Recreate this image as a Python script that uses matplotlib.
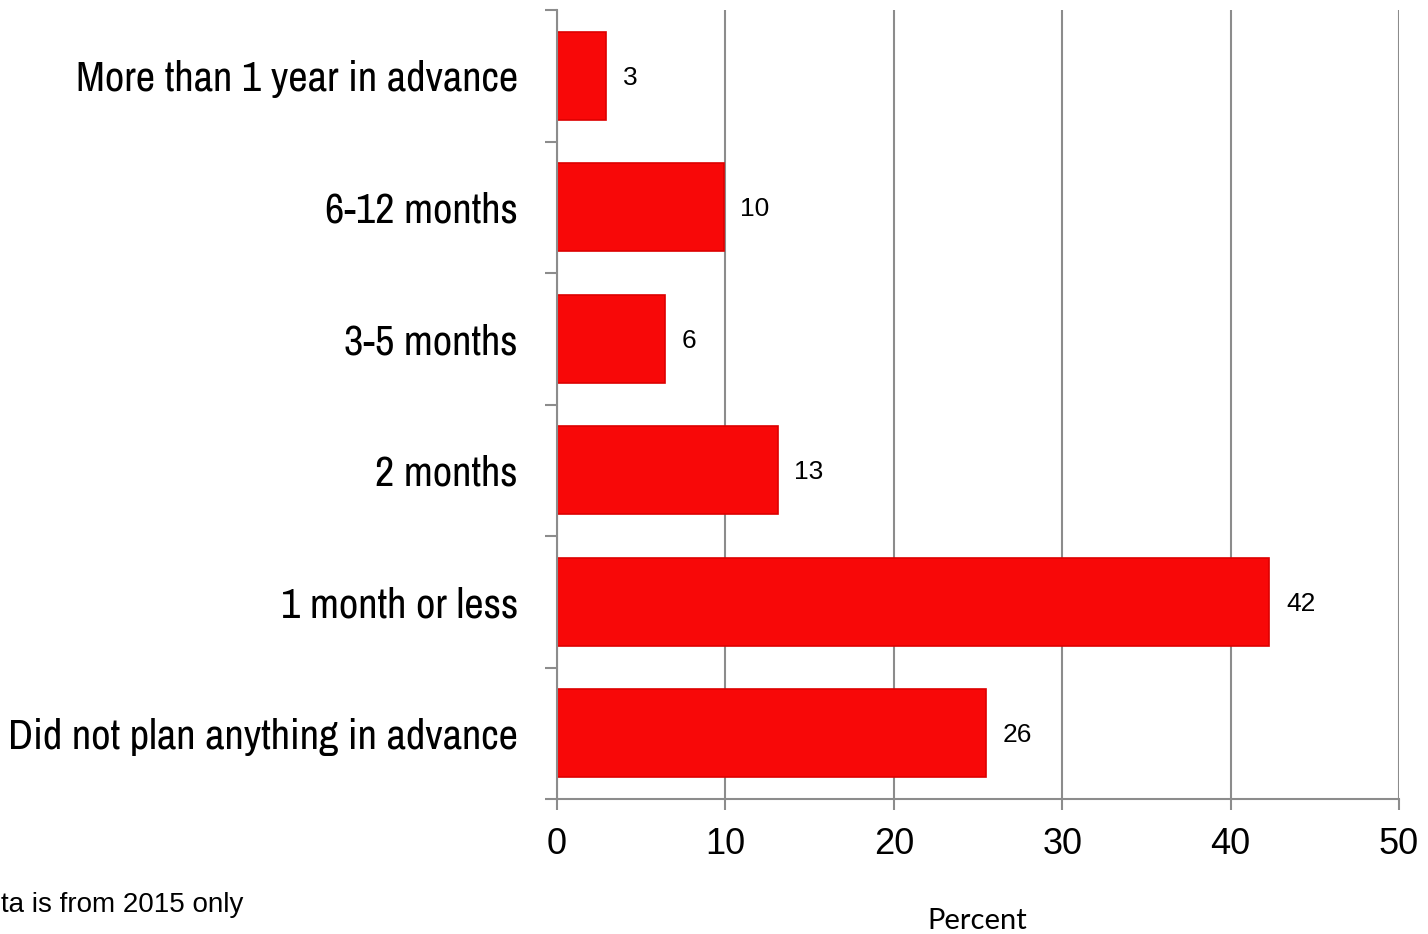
import matplotlib
matplotlib.use('Agg')
import matplotlib.pyplot as plt
from matplotlib import font_manager

categories = [
    'More than 1 year in advance',
    '6-12 months',
    '3-5 months',
    '2 months',
    '1 month or less',
    'Did not plan anything in advance',
]
values = [2.9, 9.9, 6.4, 13.1, 42.3, 25.5]
value_labels = ['3', '10', '6', '13', '42', '26']
x_ticks = [0, 10, 20, 30, 40, 50]

# narrow face for the category labels (Arial Narrow look-alike)
names = {f.name for f in font_manager.fontManager.ttflist}
narrow = next((n for n in ['Liberation Sans Narrow', 'Arimo Narrow', 'Archivo Narrow',
                           'Roboto Condensed', 'Liberation Sans'] if n in names))

grey = '#8c8c8c'
fig = plt.figure(figsize=(14.28, 9.34), dpi=100, facecolor='white')
ax = fig.add_axes([557 / 1428, 1 - 799 / 934, (1399 - 557) / 1428, (799 - 10) / 934])

pos = list(range(len(categories)))
ax.barh(pos, values, height=0.67, color='#f80808', edgecolor='#dd0000', linewidth=1.2, zorder=3)

for p, v, lab in zip(pos, values, value_labels):
    ax.annotate(lab, (v, p), xytext=(12, -1.5), textcoords='offset points',
                ha='left', va='center', fontsize=19, family='Liberation Sans', color='black')

ax.set_xlim(0, 50)
ax.set_ylim(len(categories) - 0.5, -0.5)
ax.set_xticks(x_ticks)
ax.set_xticklabels([str(t) for t in x_ticks], family='Liberation Sans', fontsize=26)
ax.tick_params(axis='x', length=8, width=1.5, color=grey, pad=12)

ax.set_yticks(pos)
ax.set_yticklabels(categories, family=narrow, fontsize=30.5)
ax.tick_params(axis='y', which='major', length=0, pad=28)
ax.set_yticks([i - 0.5 for i in range(len(categories) + 1)], minor=True)
ax.tick_params(axis='y', which='minor', length=9, width=1.5, color=grey)

ax.grid(axis='x', color=grey, linewidth=1.5, zorder=0)
ax.set_axisbelow(True)
for s in ['top', 'right']:
    ax.spines[s].set_visible(False)
for s in ['left', 'bottom']:
    ax.spines[s].set_color(grey)
    ax.spines[s].set_linewidth(1.5)
ax.spines['left'].set_zorder(4)

fig.text(977 / 1428, 1 - 921 / 934, 'Percent', ha='center', va='center', fontsize=21, family='Lato')
fig.text(0.0005, 1 - 905 / 934, 'ta is from 2015 only', ha='left', va='center', fontsize=20, family='Liberation Sans')

plt.savefig('out.png', dpi=100)
plt.close(fig)
